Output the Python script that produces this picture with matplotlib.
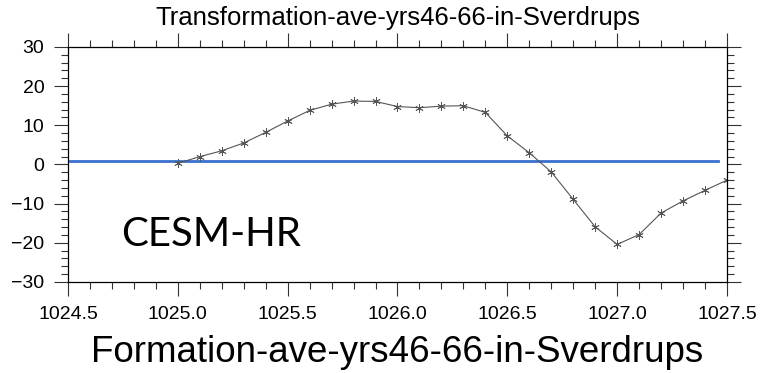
import matplotlib.pyplot as plt
from matplotlib.ticker import MultipleLocator

density = [1025.0, 1025.1, 1025.2, 1025.3, 1025.4, 1025.5, 1025.6, 1025.7, 1025.8,
           1025.9, 1026.0, 1026.1, 1026.2, 1026.3, 1026.4, 1026.5, 1026.6, 1026.7,
           1026.8, 1026.9, 1027.0, 1027.1, 1027.2, 1027.3, 1027.4, 1027.5]
formation = [0.3, 2.0, 3.5, 5.5, 8.2, 11.1, 13.8, 15.4, 16.2,
             16.1, 14.8, 14.5, 14.9, 15.0, 13.3, 7.3, 3.0, -1.9,
             -8.9, -15.9, -20.4, -17.9, -12.4, -9.3, -6.6, -4.0]
ref_x = [1024.51, 1027.46]
ref_y = [1.0, 1.0]

plt.rcParams['font.family'] = ['Liberation Sans', 'DejaVu Sans']

fig = plt.figure(figsize=(7.6, 3.73), dpi=100)
ax = fig.add_axes([0.0895, 0.244, 0.867, 0.630])

ax.plot(ref_x, ref_y, color='#3a6fd0', lw=2)
ax.plot(density, formation, color='#555555', lw=0.8,
        marker=(6, 2, 0), markersize=6, markeredgewidth=0.6)

ax.set_xlim(1024.5, 1027.5)
ax.set_ylim(-30, 30)
ax.xaxis.set_major_locator(MultipleLocator(0.5))
ax.xaxis.set_minor_locator(MultipleLocator(0.1))
ax.yaxis.set_major_locator(MultipleLocator(10))
ax.yaxis.set_minor_locator(MultipleLocator(2))
ax.xaxis.set_major_formatter(lambda v, p: f'{v:.1f}')

ax.tick_params(which='both', direction='out', top=True, right=True,
               color='#333333', width=0.8, labelsize=14)
ax.tick_params(which='major', length=10)
ax.tick_params(which='minor', length=5)
ax.tick_params(axis='x', pad=7)
ax.tick_params(axis='y', pad=7)
for s in ax.spines.values():
    s.set_linewidth(0.9)

ax.set_title('Transformation-ave-yrs46-66-in-Sverdrups', fontsize=18.5, y=1.06)
ax.set_xlabel('Formation-ave-yrs46-66-in-Sverdrups', fontsize=26.5, va='baseline')
ax.xaxis.set_label_coords(0.5, -0.339)
ax.text(1024.744, -20.7, 'CESM-HR', fontsize=29, family=['Lato', 'DejaVu Sans'],
        va='baseline', ha='left')

fig.savefig('out.png', dpi=100)
